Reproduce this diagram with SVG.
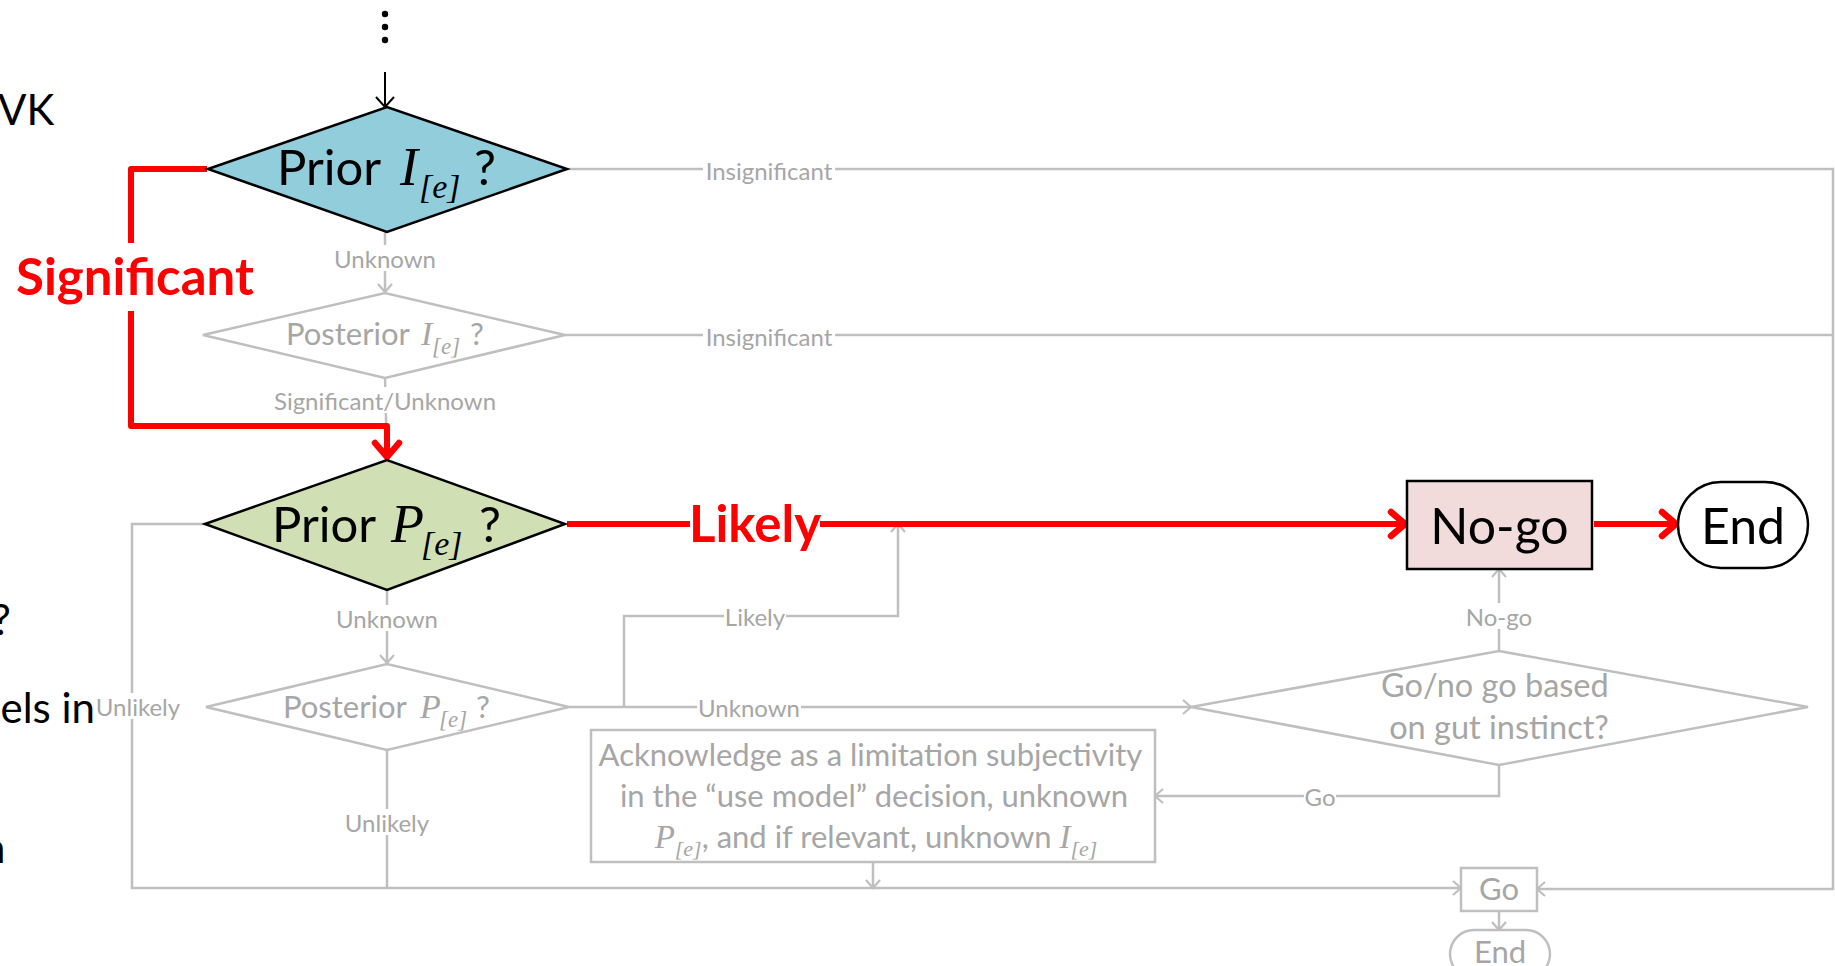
<svg xmlns="http://www.w3.org/2000/svg" width="1835" height="966" viewBox="0 0 1835 966">
  <defs>
    <style>
      .sans { font-family: Lato, "Liberation Sans", sans-serif; }
      .math { font-family: "Liberation Serif", serif; font-style: italic; }
      .gl { fill: none; stroke: #BFBFBF; stroke-width: 2.5; }
      .rl { fill: none; stroke: #FF0000; stroke-width: 6; stroke-linejoin: round; }
      .bl { fill: none; stroke: #000000; stroke-width: 2; }
      .lblbg { fill: #FFFFFF; }
      .lbl { font-family: Lato, "Liberation Sans", sans-serif; font-size: 24px; fill: #A6A6A6; text-anchor: middle; dominant-baseline: central; }
      .rlbl { font-family: Lato, "Liberation Sans", sans-serif; font-weight: bold; font-size: 51px; fill: #FF0000; text-anchor: middle; dominant-baseline: central; }
      .ghost { fill: #FFFFFF; stroke: #BFBFBF; stroke-width: 2.5; }
      .gtext { fill: #A6A6A6; }
      .side { font-family: Lato, "Liberation Sans", sans-serif; font-size: 42px; fill: #000000; }
    </style>
    <marker id="ag" markerUnits="userSpaceOnUse" markerWidth="20" markerHeight="20" refX="16" refY="10" orient="auto">
      <path d="M8,3 L16,10 L8,17" fill="none" stroke="#BFBFBF" stroke-width="2.2"/>
    </marker>
    <marker id="ab" markerUnits="userSpaceOnUse" markerWidth="20" markerHeight="22" refX="16" refY="11" orient="auto">
      <path d="M6,2 L16,11 L6,20" fill="none" stroke="#000000" stroke-width="2"/>
    </marker>
    <marker id="ar" markerUnits="userSpaceOnUse" markerWidth="30" markerHeight="34" refX="22" refY="17" orient="auto">
      <path d="M8,5 L22,17 L8,29" fill="none" stroke="#FF0000" stroke-width="6.5" stroke-linecap="round" stroke-linejoin="round"/>
    </marker>
  </defs>

  <rect width="1835" height="966" fill="#FFFFFF"/>

  <!-- text of the neighbouring slide column, cut at the left edge -->
  <g id="side-text" class="side">
    <text x="-2" y="125">VK</text>
    <text x="-8" y="635">?</text>
    <text x="95" y="723" text-anchor="end">els in</text>
    <text x="-18" y="863">n</text>
  </g>

  <!-- connectors -->
  <g id="connectors">
    <!-- entry -->
    <line class="bl" x1="385" y1="72" x2="385" y2="107" marker-end="url(#ab)"/>

    <!-- grey paths -->
    <line class="gl" x1="385" y1="232" x2="385" y2="292" marker-end="url(#ag)"/>
    <polyline class="gl" points="567,169 1833,169 1833,889 1537,889" marker-end="url(#ag)"/>
    <line class="gl" x1="565" y1="335" x2="1833" y2="335"/>
    <line class="gl" x1="385" y1="378" x2="387" y2="459"/>
    <line class="gl" x1="387" y1="590" x2="387" y2="663" marker-end="url(#ag)"/>
    <polyline class="gl" points="205,524 132,524 132,888 1461,888" marker-end="url(#ag)"/>
    <line class="gl" x1="387" y1="750" x2="387" y2="888"/>
    <line class="gl" x1="569" y1="707" x2="1191" y2="707" marker-end="url(#ag)"/>
    <polyline class="gl" points="624,707 624,616 898,616 898,524" marker-end="url(#ag)"/>
    <line class="gl" x1="1499" y1="651" x2="1499" y2="569" marker-end="url(#ag)"/>
    <polyline class="gl" points="1499,765 1499,796 1155,796" marker-end="url(#ag)"/>
    <line class="gl" x1="873" y1="862" x2="873" y2="888" marker-end="url(#ag)"/>
    <line class="gl" x1="1499" y1="911" x2="1499" y2="930" marker-end="url(#ag)"/>

    <!-- highlighted path -->
    <polyline class="rl" points="207,169 131,169 131,243"/>
    <polyline class="rl" points="131,311 131,426 387,426 387,457" marker-end="url(#ar)"/>
    <line class="rl" x1="567" y1="524" x2="1405" y2="524" marker-end="url(#ar)"/>
    <line class="rl" x1="1594" y1="524" x2="1676" y2="524" marker-end="url(#ar)"/>

    <!-- connector labels -->
    <rect class="lblbg" x="333" y="245" width="104" height="26"/>
    <text class="lbl" x="385" y="258">Unknown</text>
    <rect class="lblbg" x="703" y="157" width="132" height="26"/>
    <text class="lbl" x="769" y="170">Insignificant</text>
    <rect class="lblbg" x="703" y="323" width="132" height="26"/>
    <text class="lbl" x="769" y="336">Insignificant</text>
    <rect class="lblbg" x="272" y="387" width="226" height="26"/>
    <text class="lbl" x="385" y="400">Significant/Unknown</text>
    <rect class="lblbg" x="335" y="605" width="104" height="26"/>
    <text class="lbl" x="387" y="618">Unknown</text>
    <rect class="lblbg" x="96" y="693" width="84" height="26"/>
    <text class="lbl" x="138" y="706">Unlikely</text>
    <rect class="lblbg" x="344" y="809" width="86" height="26"/>
    <text class="lbl" x="387" y="822">Unlikely</text>
    <rect class="lblbg" x="697" y="694" width="104" height="26"/>
    <text class="lbl" x="749" y="707">Unknown</text>
    <rect class="lblbg" x="724" y="603" width="62" height="26"/>
    <text class="lbl" x="755" y="616">Likely</text>
    <rect class="lblbg" x="1466" y="603" width="66" height="26"/>
    <text class="lbl" x="1499" y="616">No-go</text>
    <rect class="lblbg" x="1304" y="783" width="32" height="26"/>
    <text class="lbl" x="1320" y="796">Go</text>
    <rect class="lblbg" x="690" y="500" width="130" height="48"/>
    <text class="rlbl" x="755" y="522">Likely</text>
    <text class="rlbl" x="135" y="275">Significant</text>
  </g>

  <!-- nodes -->
  <g id="start-dots" fill="#000000">
    <circle cx="385" cy="14" r="3.2"/>
    <circle cx="385" cy="27" r="3.2"/>
    <circle cx="385" cy="40" r="3.2"/>
  </g>

  <g id="prior-impact">
    <polygon points="208,169 387,107 567,169 387,232" fill="#92CDDC" stroke="#000000" stroke-width="2.5"/>
    <text y="185" fill="#000000">
      <tspan class="sans" x="277" font-size="49">Prior</tspan>
      <tspan class="math" x="400" font-size="54">I</tspan>
      <tspan class="math" x="419" y="198" font-size="34">[e]</tspan>
      <tspan class="sans" x="474" y="185" font-size="49">?</tspan>
    </text>
  </g>

  <g id="posterior-impact">
    <polygon class="ghost" points="203,335 385,293 565,335 385,378"/>
    <text y="345" class="gtext">
      <tspan class="sans" x="286" font-size="31">Posterior</tspan>
      <tspan class="math" x="421" font-size="34">I</tspan>
      <tspan class="math" x="432" y="354" font-size="23">[e]</tspan>
      <tspan class="sans" x="470" y="345" font-size="31">?</tspan>
    </text>
  </g>

  <g id="prior-probability">
    <polygon points="205,524 387,460 565,524 387,590" fill="#D0DFB4" stroke="#000000" stroke-width="2.5"/>
    <text y="542" fill="#000000">
      <tspan class="sans" x="272" font-size="49">Prior</tspan>
      <tspan class="math" x="391" font-size="54">P</tspan>
      <tspan class="math" x="421" y="555" font-size="34">[e]</tspan>
      <tspan class="sans" x="479" y="542" font-size="49">?</tspan>
    </text>
  </g>

  <g id="posterior-probability">
    <polygon class="ghost" points="206,707 387,664 569,707 387,750"/>
    <text y="718" class="gtext">
      <tspan class="sans" x="283" font-size="31">Posterior</tspan>
      <tspan class="math" x="420" font-size="34">P</tspan>
      <tspan class="math" x="439" y="727" font-size="23">[e]</tspan>
      <tspan class="sans" x="476" y="718" font-size="31">?</tspan>
    </text>
  </g>

  <g id="no-go">
    <rect x="1407" y="481" width="185" height="88" fill="#F2DCDB" stroke="#000000" stroke-width="2.5"/>
    <text class="sans" x="1499.5" y="525" font-size="50" fill="#000000" text-anchor="middle" dominant-baseline="central">No-go</text>
  </g>

  <g id="end">
    <rect x="1678" y="482" width="130" height="86" rx="43" fill="#FFFFFF" stroke="#000000" stroke-width="2.5"/>
    <text class="sans" x="1743" y="525" font-size="50" fill="#000000" text-anchor="middle" dominant-baseline="central">End</text>
  </g>

  <g id="gut-instinct">
    <polygon class="ghost" points="1191,707 1499,651 1808,707 1499,765"/>
    <text class="sans gtext" x="1499" font-size="32.5" text-anchor="middle">
      <tspan x="1499" y="697">Go/no go based</tspan>
      <tspan x="1499" y="739">on gut instinct?</tspan>
    </text>
  </g>

  <g id="acknowledge">
    <rect class="ghost" x="591" y="730" width="564" height="132"/>
    <text class="sans gtext" font-size="31" text-anchor="middle">
      <tspan x="874" y="766">Acknowledge as a limitation subjectivity</tspan>
      <tspan x="874" y="807">in the “use model” decision, unknown</tspan>
    </text>
    <text class="sans gtext" x="876" y="848" font-size="31" text-anchor="middle"><tspan class="math" font-size="33">P</tspan><tspan class="math" dy="8" font-size="22">[e]</tspan><tspan dy="-8">, and if relevant, unknown </tspan><tspan class="math" font-size="33">I</tspan><tspan class="math" dy="8" font-size="22">[e]</tspan></text>
  </g>

  <g id="go">
    <rect class="ghost" x="1461" y="868" width="76" height="43"/>
    <text class="sans gtext" x="1499" y="888" font-size="31" text-anchor="middle" dominant-baseline="central">Go</text>
  </g>

  <g id="end-go">
    <rect class="ghost" x="1450" y="930" width="100" height="48" rx="24"/>
    <text class="sans gtext" x="1500" y="951" font-size="31" text-anchor="middle" dominant-baseline="central">End</text>
  </g>
</svg>
